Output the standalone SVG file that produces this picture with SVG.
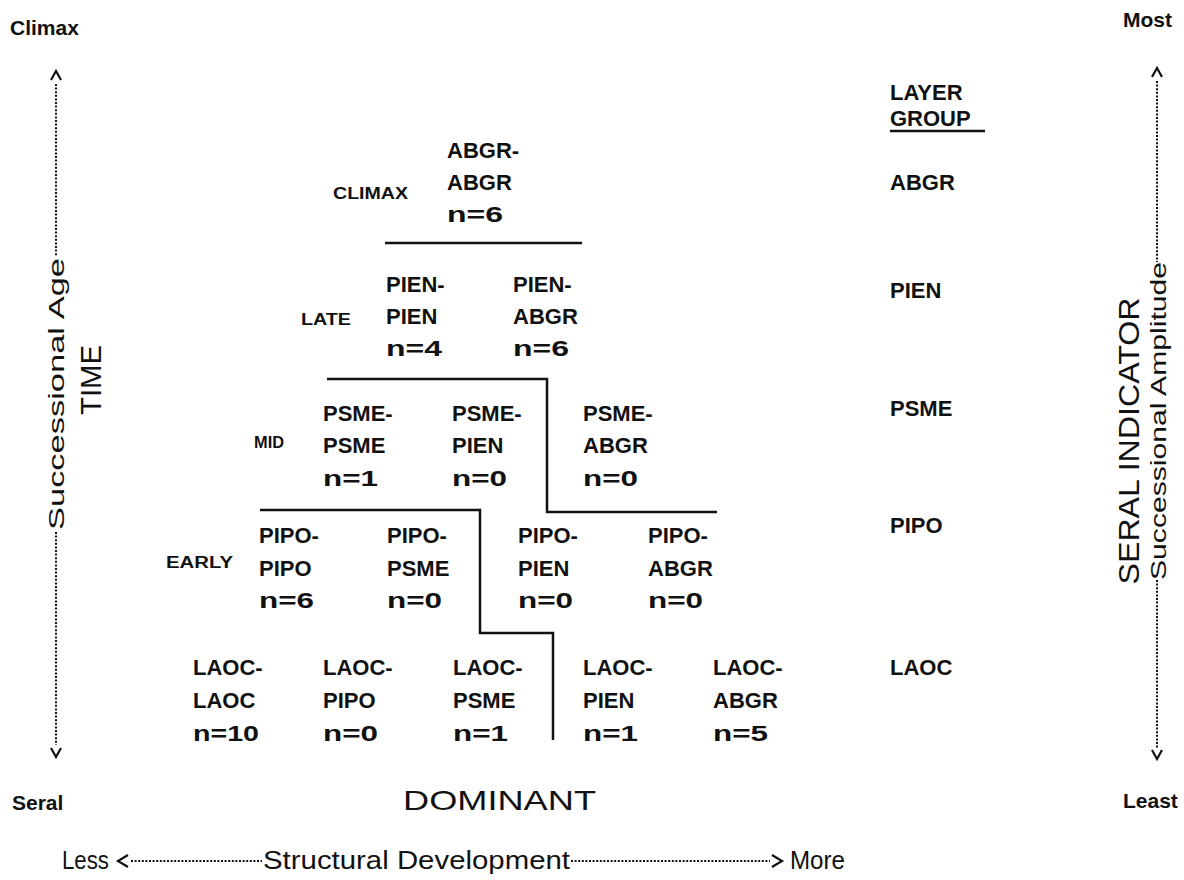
<svg xmlns="http://www.w3.org/2000/svg" width="1184" height="880" viewBox="0 0 1184 880">
  <style>
    text { font-family: "Liberation Sans", Arial, sans-serif; fill: #111; }
    .cell { font-size: 22px; font-weight: bold; }
    .stage { font-size: 16px; font-weight: bold; }
    .corner { font-size: 21px; font-weight: bold; }
    .axis { font-size: 22px; }
    .foot { font-size: 25px; }
    .big { font-size: 30px; }
    .step { fill: none; stroke: #111; stroke-width: 2.5; }
    .dots { fill: none; stroke: #111; stroke-width: 2; stroke-dasharray: 2 1.6; }
    .chev { fill: none; stroke: #111; stroke-width: 2.2; }
  </style>

  <!-- corner labels -->
  <text class="corner" x="10" y="35">Climax</text>
  <text class="corner" x="1123" y="27">Most</text>
  <text class="corner" x="12" y="810">Seral</text>
  <text class="corner" x="1123" y="808">Least</text>

  <!-- left axis: successional age -->
  <g id="axis-time">
    <path class="chev" d="M51,80 L56,71 L61,80"/>
    <path class="dots" d="M56,84 V256"/>
    <text class="axis" transform="translate(56,394) rotate(-90)" text-anchor="middle" dominant-baseline="central" textLength="272" lengthAdjust="spacingAndGlyphs">Successional Age</text>
    <path class="dots" d="M56,532 V745"/>
    <path class="chev" d="M51,748 L56,757 L61,748"/>
    <text class="big" transform="translate(90,380) rotate(-90)" text-anchor="middle" dominant-baseline="central" textLength="70" lengthAdjust="spacingAndGlyphs">TIME</text>
  </g>

  <!-- right axis: seral indicator -->
  <g id="axis-seral">
    <path class="chev" d="M1152,77 L1157,68 L1162,77"/>
    <path class="dots" d="M1157,81 V262"/>
    <text class="axis" transform="translate(1158,421) rotate(-90)" text-anchor="middle" dominant-baseline="central" textLength="318" lengthAdjust="spacingAndGlyphs">Successional Amplitude</text>
    <path class="dots" d="M1157,580 V748"/>
    <path class="chev" d="M1152,750 L1157,759 L1162,750"/>
    <text class="big" transform="translate(1128,441) rotate(-90)" text-anchor="middle" dominant-baseline="central" textLength="287" lengthAdjust="spacingAndGlyphs">SERAL INDICATOR</text>
  </g>

  <!-- bottom axis: structural development -->
  <g id="axis-structure">
    <text x="403" y="810" style="font-size:28px" textLength="193" lengthAdjust="spacingAndGlyphs">DOMINANT</text>
    <text class="foot" x="62" y="869" textLength="47" lengthAdjust="spacingAndGlyphs">Less</text>
    <path class="chev" d="M128,855 L118,861 L128,867"/>
    <path class="dots" d="M131,861 H262"/>
    <text class="foot" x="263" y="869" textLength="307" lengthAdjust="spacingAndGlyphs">Structural Development</text>
    <path class="dots" d="M571,861 H770"/>
    <path class="chev" d="M772,855 L782,861 L772,867"/>
    <text class="foot" x="790" y="869" textLength="55" lengthAdjust="spacingAndGlyphs">More</text>
  </g>

  <!-- layer group column -->
  <g id="layer-group">
    <text class="cell" x="890" y="100">LAYER</text>
    <text class="cell" x="890" y="126">GROUP</text>
    <line x1="890" y1="131" x2="985" y2="131" stroke="#111" stroke-width="2.5"/>
    <text class="cell" x="890" y="190">ABGR</text>
    <text class="cell" x="890" y="298">PIEN</text>
    <text class="cell" x="890" y="416">PSME</text>
    <text class="cell" x="890" y="533">PIPO</text>
    <text class="cell" x="890" y="675">LAOC</text>
  </g>

  <!-- stage labels -->
  <text class="stage" x="333" y="199" textLength="75" lengthAdjust="spacingAndGlyphs">CLIMAX</text>
  <text class="stage" x="301" y="325" textLength="50" lengthAdjust="spacingAndGlyphs">LATE</text>
  <text class="stage" x="254" y="448" textLength="30" lengthAdjust="spacingAndGlyphs">MID</text>
  <text class="stage" x="166" y="568" textLength="67" lengthAdjust="spacingAndGlyphs">EARLY</text>

  <!-- boundaries between stages -->
  <g id="connectors">
    <path class="step" d="M385,243 H582"/>
    <path class="step" d="M327,379 H547 V512 H717"/>
    <path class="step" d="M260,510 H480 V633 H553 V740"/>
  </g>

  <!-- climax row -->
  <g id="abgr-abgr"><text class="cell" x="447" y="158">ABGR-</text><text class="cell" x="447" y="190">ABGR</text><text class="cell" x="447" y="222" textLength="56" lengthAdjust="spacingAndGlyphs">n=6</text></g>

  <!-- late row -->
  <g id="pien-pien"><text class="cell" x="386" y="292">PIEN-</text><text class="cell" x="386" y="324">PIEN</text><text class="cell" x="386" y="356" textLength="56" lengthAdjust="spacingAndGlyphs">n=4</text></g>
  <g id="pien-abgr"><text class="cell" x="513" y="292">PIEN-</text><text class="cell" x="513" y="324">ABGR</text><text class="cell" x="513" y="356" textLength="56" lengthAdjust="spacingAndGlyphs">n=6</text></g>

  <!-- mid row -->
  <g id="psme-psme"><text class="cell" x="323" y="421">PSME-</text><text class="cell" x="323" y="453">PSME</text><text class="cell" x="323" y="486" textLength="55" lengthAdjust="spacingAndGlyphs">n=1</text></g>
  <g id="psme-pien"><text class="cell" x="452" y="421">PSME-</text><text class="cell" x="452" y="453">PIEN</text><text class="cell" x="452" y="486" textLength="55" lengthAdjust="spacingAndGlyphs">n=0</text></g>
  <g id="psme-abgr"><text class="cell" x="583" y="421">PSME-</text><text class="cell" x="583" y="453">ABGR</text><text class="cell" x="583" y="486" textLength="55" lengthAdjust="spacingAndGlyphs">n=0</text></g>

  <!-- early row -->
  <g id="pipo-pipo"><text class="cell" x="259" y="543">PIPO-</text><text class="cell" x="259" y="576">PIPO</text><text class="cell" x="259" y="608" textLength="55" lengthAdjust="spacingAndGlyphs">n=6</text></g>
  <g id="pipo-psme"><text class="cell" x="387" y="543">PIPO-</text><text class="cell" x="387" y="576">PSME</text><text class="cell" x="387" y="608" textLength="55" lengthAdjust="spacingAndGlyphs">n=0</text></g>
  <g id="pipo-pien"><text class="cell" x="518" y="543">PIPO-</text><text class="cell" x="518" y="576">PIEN</text><text class="cell" x="518" y="608" textLength="55" lengthAdjust="spacingAndGlyphs">n=0</text></g>
  <g id="pipo-abgr"><text class="cell" x="648" y="543">PIPO-</text><text class="cell" x="648" y="576">ABGR</text><text class="cell" x="648" y="608" textLength="55" lengthAdjust="spacingAndGlyphs">n=0</text></g>

  <!-- seral row -->
  <g id="laoc-laoc"><text class="cell" x="193" y="675">LAOC-</text><text class="cell" x="193" y="708">LAOC</text><text class="cell" x="193" y="741" textLength="66" lengthAdjust="spacingAndGlyphs">n=10</text></g>
  <g id="laoc-pipo"><text class="cell" x="323" y="675">LAOC-</text><text class="cell" x="323" y="708">PIPO</text><text class="cell" x="323" y="741" textLength="55" lengthAdjust="spacingAndGlyphs">n=0</text></g>
  <g id="laoc-psme"><text class="cell" x="453" y="675">LAOC-</text><text class="cell" x="453" y="708">PSME</text><text class="cell" x="453" y="741" textLength="55" lengthAdjust="spacingAndGlyphs">n=1</text></g>
  <g id="laoc-pien"><text class="cell" x="583" y="675">LAOC-</text><text class="cell" x="583" y="708">PIEN</text><text class="cell" x="583" y="741" textLength="55" lengthAdjust="spacingAndGlyphs">n=1</text></g>
  <g id="laoc-abgr"><text class="cell" x="713" y="675">LAOC-</text><text class="cell" x="713" y="708">ABGR</text><text class="cell" x="713" y="741" textLength="55" lengthAdjust="spacingAndGlyphs">n=5</text></g>
</svg>
